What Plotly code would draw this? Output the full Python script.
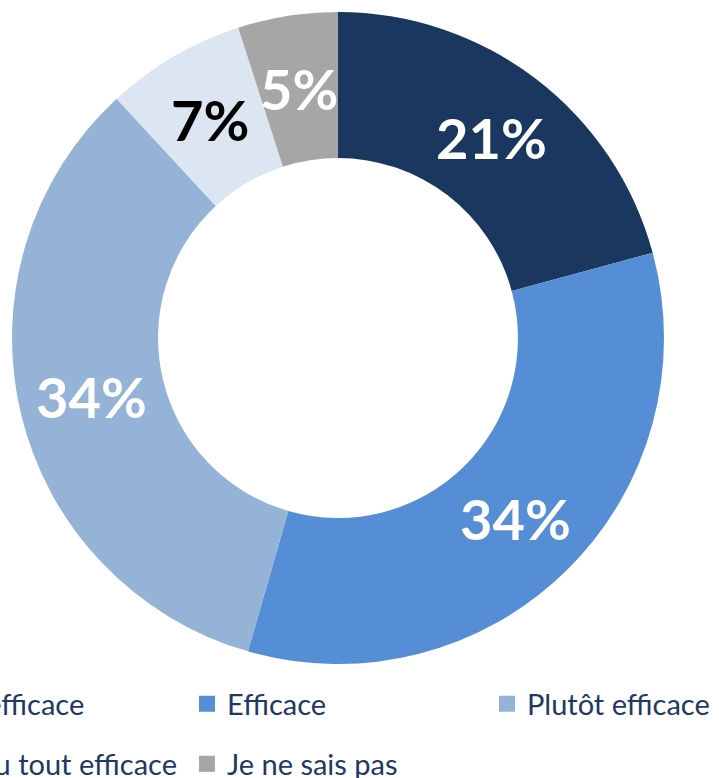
import math
import plotly.graph_objects as go

# ---- data ----
categories = ["Très efficace", "Efficace", "Plutôt efficace", "Pas du tout efficace", "Je ne sais pas"]
shares = [21, 34, 34, 7, 5]
colors = ["#1A3760", "#558ED5", "#95B3D7", "#DCE6F2", "#A6A6A6"]
label_colors = ["white", "white", "white", "black", "white"]

W, H = 719, 778
FONT = "Lato"

# pie geometry (pixels)
CX, CY, R_OUT = 338, 338, 326
HOLE = 0.552

fig = go.Figure()

fig.add_trace(go.Pie(
    labels=categories,
    values=shares,
    sort=False,
    direction="clockwise",
    rotation=0,
    hole=HOLE,
    marker=dict(colors=colors, line=dict(width=0)),
    textinfo="none",
    domain=dict(x=[(CX - R_OUT) / W, (CX + R_OUT) / W],
                y=[1 - (CY + R_OUT) / H, 1 - (CY - R_OUT) / H]),
    showlegend=False,
    hoverinfo="label+percent",
))

# percentage labels placed at the middle of the ring, at each slice's mid-angle
total = sum(shares)
r_mid = R_OUT * (1 + HOLE) / 2
annotations = []
cum = 0
for v, col in zip(shares, label_colors):
    theta = 2 * math.pi * (cum + v / 2) / total
    cum += v
    px = CX + r_mid * math.sin(theta)
    py = CY - r_mid * math.cos(theta)
    annotations.append(dict(
        x=px / W, y=1 - py / H, xref="paper", yref="paper",
        text=f"{v}%", showarrow=False, xanchor="center", yanchor="middle",
        font=dict(family=FONT, size=56, color=col, weight="bold"),
    ))

# legend entries: one legend per entry so they can sit on the original grid
legend_pos = [(-113, 704), (187, 704), (487, 704), (-113, 764), (187, 764)]
layout_legends = {}
for i, (name, col) in enumerate(zip(categories, colors)):
    lid = "legend" if i == 0 else f"legend{i + 1}"
    fig.add_trace(go.Scatter(
        x=[None], y=[None], mode="markers", name=name,
        marker=dict(symbol="square", size=17, color=col),
        legend=lid, showlegend=True, hoverinfo="skip",
    ))
    px, py = legend_pos[i]
    layout_legends[lid] = dict(
        x=px / W, y=1 - py / H, xanchor="left", yanchor="middle",
        orientation="h", bgcolor="rgba(0,0,0,0)", borderwidth=0,
        font=dict(family=FONT, size=29, color="#1F3864"),
    )

fig.update_layout(
    width=W, height=H,
    margin=dict(l=0, r=0, t=0, b=0, pad=0, autoexpand=False),
    paper_bgcolor="white", plot_bgcolor="white",
    xaxis=dict(visible=False), yaxis=dict(visible=False),
    annotations=annotations,
    **layout_legends,
)

fig.write_html(
    "out.html",
    config={"displayModeBar": False},
    post_script="document.body.style.margin='0';document.body.style.overflow='hidden';",
)
